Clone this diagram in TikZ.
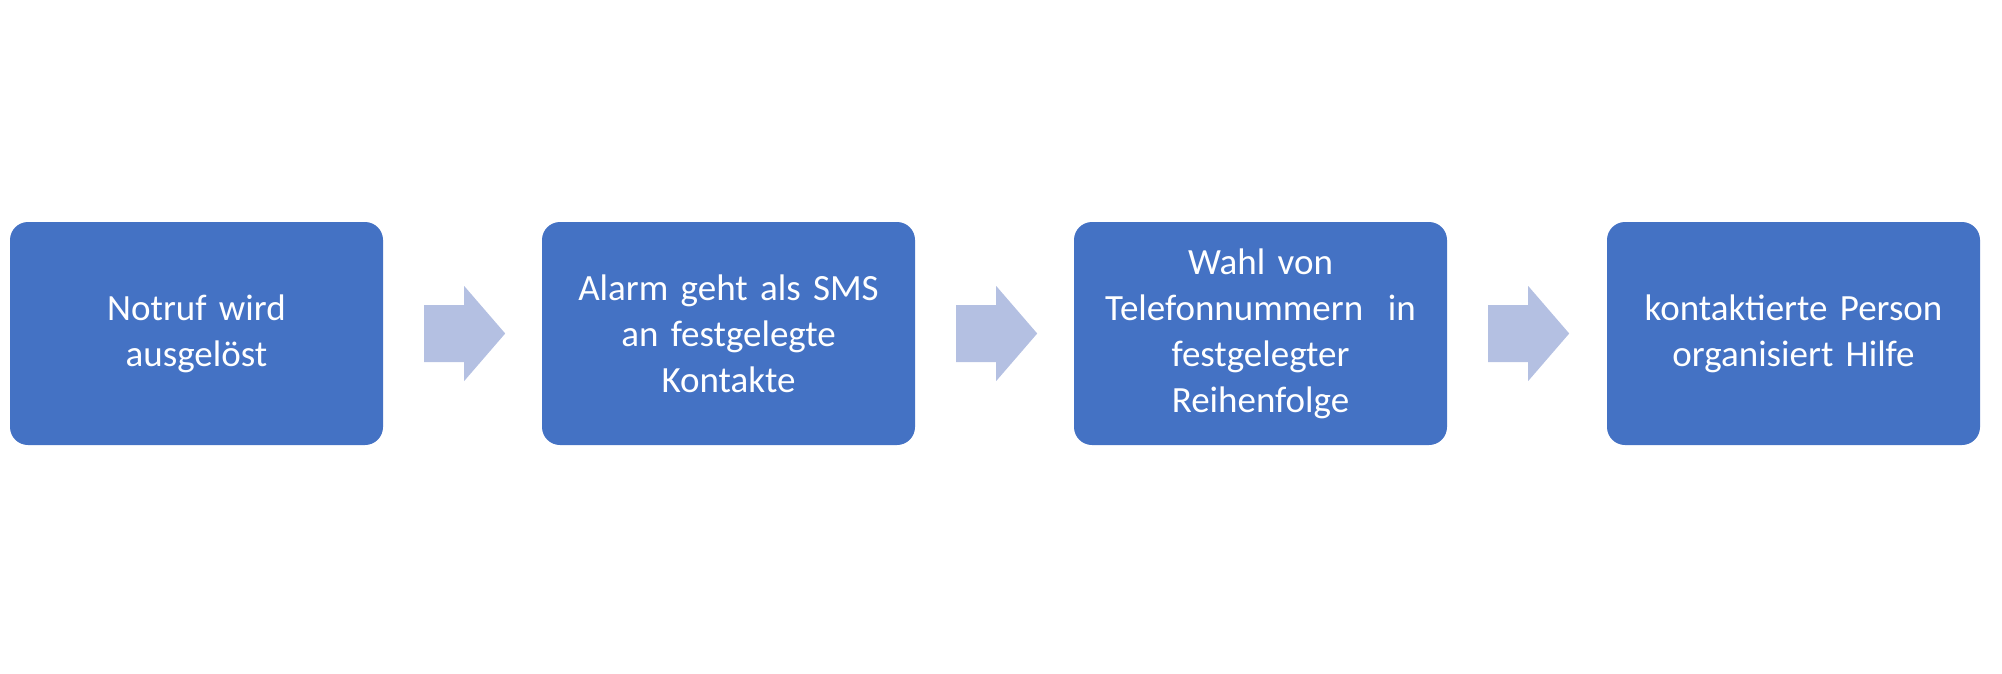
\documentclass[tikz,border=0pt]{standalone}
\usepackage{fontspec}
\setmainfont{Carlito}
\definecolor{boxblue}{HTML}{4472C4}
\definecolor{arrowblue}{HTML}{B4C0E2}
\begin{document}
\begin{tikzpicture}[x=1pt,y=-1pt,
  stepbox/.style={fill=boxblue,rounded corners=18pt,minimum width=373pt,minimum height=223pt,inner sep=0pt,text=white,align=center,font=\fontsize{37}{46}\selectfont,text width=360pt},
  flow/.style={fill=arrowblue}]
\useasboundingbox (0,0) rectangle (2002,673);
\node[stepbox] (a) at (196.5,333.5) {Notruf wird\\ausgelöst};
\node[stepbox] (b) at (728.5,333.5) {Alarm geht als SMS\\an festgelegte\\Kontakte};
\node[stepbox] (c) at (1260.5,333.5) {Wahl von\\Telefonnummern~ in\\festgelegter\\Reihenfolge};
\node[stepbox] (d) at (1793.5,333.5) {kontaktierte Person\\organisiert Hilfe};
\foreach \s/\t in {a/b,b/c,c/d}{
  \path (\s.east) ++(41,0) coordinate (\s0);
  \fill[flow] (\s0) ++(0,-28.5) -- ++(40,0) -- ++(0,-19) -- ++(41,47.5) -- ++(-41,47.5) -- ++(0,-19) -- ++(-40,0) -- cycle;
}
\end{tikzpicture}
\end{document}
